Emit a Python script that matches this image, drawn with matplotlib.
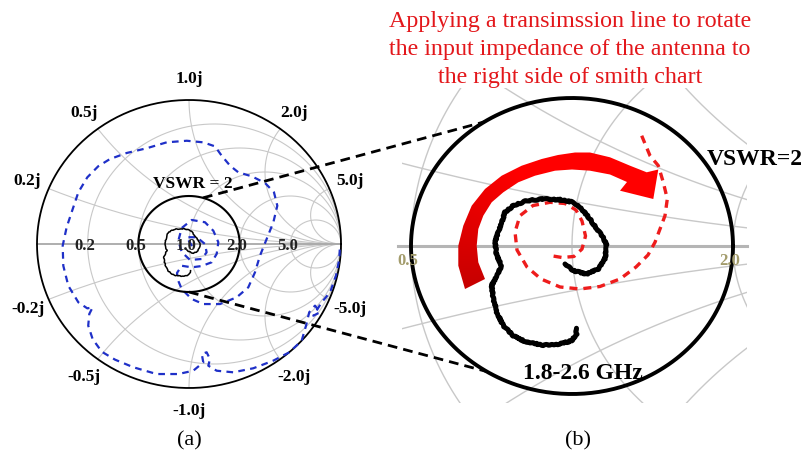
import numpy as np
import matplotlib
matplotlib.use("Agg")
import matplotlib.pyplot as plt
from matplotlib.patches import Polygon, Rectangle

plt.rcParams["font.family"] = ["Liberation Serif", "DejaVu Serif"]

# Reflection coefficient (real, imag) of the bare antenna
blue_re = [0.020, -0.015, 0.051, 0.105, 0.116, 0.084, 0.007, -0.048, -0.070, -0.048,
           0.018, 0.105, 0.160, 0.193, 0.182, 0.149, 0.084, 0.018, -0.048, -0.079,
           -0.070, -0.048, 0.018, 0.094, 0.204, 0.314, 0.390, 0.434, 0.467, 0.511,
           0.555, 0.581, 0.559, 0.500, 0.413, 0.324, 0.270, 0.215, 0.171, 0.094,
           -0.015, -0.147, -0.278, -0.410, -0.520, -0.597, -0.669, -0.728, -0.765, -0.805,
           -0.831, -0.827, -0.794, -0.728, -0.669, -0.634, -0.656, -0.663, -0.634, -0.574,
           -0.487, -0.366, -0.213, -0.070, 0.028, 0.094, 0.084, 0.116, 0.138, 0.127,
           0.182, 0.291, 0.423, 0.555, 0.660, 0.741, 0.770, 0.791, 0.829, 0.862,
           0.818, 0.873, 0.928, 0.967, 0.989, 0.993]
blue_im = [-0.014, 0.047, 0.047, 0.000, -0.058, -0.104, -0.111, -0.056, 0.023, 0.111,
           0.167, 0.151, 0.092, 0.012, -0.069, -0.127, -0.153, -0.162, -0.151, -0.201,
           -0.257, -0.313, -0.382, -0.417, -0.417, -0.370, -0.301, -0.197, -0.081, 0.035,
           0.151, 0.266, 0.359, 0.424, 0.470, 0.498, 0.544, 0.613, 0.678, 0.706,
           0.717, 0.706, 0.665, 0.632, 0.590, 0.540, 0.463, 0.359, 0.243, 0.116,
           -0.012, -0.151, -0.290, -0.405, -0.447, -0.440, -0.486, -0.567, -0.660, -0.748,
           -0.803, -0.856, -0.903, -0.903, -0.880, -0.822, -0.764, -0.752, -0.799, -0.845,
           -0.880, -0.891, -0.863, -0.810, -0.752, -0.672, -0.567, -0.474, -0.428, -0.474,
           -0.498, -0.405, -0.335, -0.220, -0.104, -0.012]

# Matched antenna, 1.8-2.6 GHz
black_re = [-0.0145, 0.0027, 0.0304, 0.0545, 0.0683, 0.0718, 0.0648, 0.0511, 0.0373, 0.0201,
            0.0027, -0.0248, -0.0594, -0.0938, -0.1215, -0.1387, -0.1455, -0.1526, -0.1594,
            -0.1559, -0.1455, -0.1559, -0.1663, -0.1629, -0.1559, -0.1422, -0.1215, -0.0938,
            -0.0594, -0.0248, -0.0006, 0.0097, 0.0083]
black_im = [-0.0405, -0.0556, -0.0631, -0.0518, -0.0293, 0.0007, 0.0196, 0.0383, 0.0608, 0.0833,
            0.0984, 0.1043, 0.1059, 0.1020, 0.0908, 0.0759, 0.0534, 0.0309, 0.0083,
            -0.0218, -0.0444, -0.0669, -0.0894, -0.1194, -0.1493, -0.1795, -0.2020, -0.2169,
            -0.2230, -0.2207, -0.2133, -0.1982, -0.1854]

# After the transmission line
red_re = [0.1443, 0.1615, 0.1787, 0.1890, 0.1973, 0.1925, 0.1822, 0.1718, 0.1573, 0.1325,
          0.0994, 0.0580, 0.0166, -0.0248, -0.0642, -0.0932, -0.1139, -0.1180, -0.1077,
          -0.0807, -0.0455, -0.0145, 0.0083, 0.0207, 0.0280, 0.0207, 0.0041, -0.0207, -0.0435]
red_im = [0.2484, 0.2034, 0.1809, 0.1435, 0.1059, 0.0682, 0.0383, 0.0083, -0.0203, -0.0473,
          -0.0743, -0.0912, -0.0968, -0.0923, -0.0743, -0.0473, -0.0090, 0.0315, 0.0682,
          0.0912, 0.0984, 0.0957, 0.0811, 0.0563, 0.0225, -0.0068, -0.0236, -0.0259, -0.0218]

r_vals = [0.2, 0.5, 1.0, 2.0, 5.0]
x_vals = [0.2, 0.5, 1.0, 2.0, 5.0]
r_labels = ["0.2", "0.5", "1.0", "2.0", "5.0"]
x_labels = ["0.2j", "0.5j", "1.0j", "2.0j", "5.0j"]
vswr = 2.0

# chart placement in pixels: centre and scale of |gamma| = 1
LEFT = (189, 245, 152, 144)
RIGHT = (572, 247, 483, 444)


def to_px(gr, gi, chart):
    cx, cy, sx, sy = chart
    return cx + sx * np.asarray(gr), cy - sy * np.asarray(gi)


def draw_grid(ax, chart, clip=None, lw=0.8):
    t = np.linspace(0, 2 * np.pi, 3000)
    lines = []
    for r in r_vals:
        c, rad = r / (1 + r), 1 / (1 + r)
        lines.append((c + rad * np.cos(t), rad * np.sin(t)))
    for x in x_vals:
        for s in (1, -1):
            gr = 1 + np.cos(t) / x
            gi = s / x + np.sin(t) / x
            out = gr ** 2 + gi ** 2 > 1.0001
            gr, gi = gr.copy(), gi.copy()
            gr[out] = np.nan
            gi[out] = np.nan
            lines.append((gr, gi))
    for gr, gi in lines:
        px, py = to_px(gr, gi, chart)
        ln, = ax.plot(px, py, color="#c8c8c8", lw=lw, zorder=1)
        if clip is not None:
            ln.set_clip_path(clip)


fig = plt.figure(figsize=(8.06, 4.52), dpi=100)
ax = fig.add_axes([0, 0, 1, 1])
ax.set_xlim(0, 806)
ax.set_ylim(452, 0)
ax.axis("off")

# ---- (a) full Smith chart ----
draw_grid(ax, LEFT)
px, py = to_px([-1, 1], [0, 0], LEFT)
ax.plot(px, py, color="#a8a8a8", lw=1.3, zorder=1)
t = np.linspace(0, 2 * np.pi, 400)
px, py = to_px(np.cos(t), np.sin(t), LEFT)
ax.plot(px, py, color="black", lw=1.3, zorder=2)

g_vswr = (vswr - 1) / (vswr + 1)
px, py = to_px(g_vswr * np.cos(t), g_vswr * np.sin(t), LEFT)
ax.plot(px, py, color="black", lw=1.5, zorder=4)

px, py = to_px(blue_re, blue_im, LEFT)
ax.plot(px, py, color="#1f30c8", lw=1.6, dashes=(3, 2.4), zorder=3)
px, py = to_px(black_re, black_im, LEFT)
ln, = ax.plot(px, py, color="black", lw=1.1, zorder=4)
ln.set_sketch_params(scale=0.4, length=4, randomness=4)

for r, lab in zip(r_vals, r_labels):
    px, py = to_px((r - 1) / (r + 1), 0, LEFT)
    ax.text(px - 3, py + 1, lab, ha="center", va="center", fontsize=12,
            fontweight="bold", color="#222222", zorder=5)

for x, lab in zip(x_vals, x_labels):
    gr, gi = (x ** 2 - 1) / (x ** 2 + 1), 2 * x / (x ** 2 + 1)
    for s in (1, -1):
        px, py = to_px(1.15 * gr, 1.15 * s * gi, LEFT)
        text = lab if s > 0 else "-" + lab
        ax.text(px, py, text, ha="center", va="center", fontsize=12.5,
                fontweight="bold", color="black")

ax.text(193, 184, "VSWR = 2", ha="center", va="center", fontsize=12.5,
        fontweight="bold", color="black", zorder=5)

# ---- (b) zoom around the matched region ----
clip = Rectangle((402, 89), 345, 315, transform=ax.transData)
draw_grid(ax, RIGHT, clip=clip, lw=1.0)
px, py = to_px([-0.36, 0.363], [0, 0], RIGHT)
ax.plot(px, py, color="#b5b5b5", lw=2.2, zorder=1)

px, py = to_px(g_vswr * np.cos(t), g_vswr * np.sin(t), RIGHT)
ax.plot(px, py, color="black", lw=2.8, zorder=4)

px, py = to_px(red_re, red_im, RIGHT)
ax.plot(px, py, color="#ee1c1c", lw=2.4, dashes=(2.4, 1.8), zorder=3)
px, py = to_px(black_re, black_im, RIGHT)
ln, = ax.plot(px, py, color="black", lw=3.6, solid_joinstyle="round",
              solid_capstyle="round", zorder=4)
ln.set_sketch_params(scale=0.6, length=6, randomness=4)

for r in (0.5, 2.0):
    px, py = to_px((r - 1) / (r + 1), 0, RIGHT)
    ax.text(px - 3, py + 14, f"{r:.1f}", ha="center", va="center", fontsize=12,
            fontweight="bold", color="#a39c6c", zorder=5)

ax.text(707, 160, "VSWR=2", ha="left", va="center", fontsize=17,
        fontweight="bold", color="black", zorder=6)
ax.text(583, 374, "1.8-2.6 GHz", ha="center", va="center", fontsize=17,
        fontweight="bold", color="black", zorder=6)

# curved arrow showing the rotation
arrow_pts = [(465, 290), (458.3, 266.7), (458.3, 246.7), (463.3, 226.7), (471.7, 206.7),
             (485, 190), (501.7, 176.7), (521.7, 166.7), (541.7, 160), (558, 156),
             (575, 153.5), (590, 153.5), (610, 158.3), (630, 166.7), (646.7, 173.3),
             (658.3, 170.5), (653.3, 200), (620, 191.7), (627, 183), (610, 175.5),
             (590, 171.7), (572, 170.5), (555, 171.7), (535, 176.7), (518.3, 183.3),
             (503.3, 193.3), (491.7, 203.3), (483.3, 216.7), (478.3, 230), (476.7, 246.7),
             (478.3, 263.3), (485, 280)]
poly = Polygon(arrow_pts, closed=True, facecolor="none", edgecolor="none",
               transform=ax.transData)
ax.add_patch(poly)
gx, gy = np.meshgrid(np.linspace(450, 665, 220), np.linspace(145, 300, 160))
ang = np.degrees(np.arctan2(262 - gy, gx - 570))
ang[ang < -90] += 360
frac = np.clip((195 - ang) / 75, 0, 1)
img = np.zeros(gx.shape + (3,))
img[..., 0] = 0.78 + 0.22 * frac
im = ax.imshow(img, extent=(450, 665, 145, 300), origin="lower",
               aspect="auto", zorder=3, interpolation="bilinear")
im.set_clip_path(poly)

# dashed connectors between the two charts
for a_left, a_right in ((74, 123), (-90, -122)):
    x0, y0 = to_px(g_vswr * np.cos(np.radians(a_left)),
                   g_vswr * np.sin(np.radians(a_left)), LEFT)
    x1, y1 = to_px(g_vswr * np.cos(np.radians(a_right)),
                   g_vswr * np.sin(np.radians(a_right)), RIGHT)
    ax.plot([x0, x1], [y0, y1], color="black", lw=2.0, dashes=(3.5, 2.2), zorder=5)

ax.set_xlim(0, 806)
ax.set_ylim(452, 0)

# red caption
caption = ["Applying a transimssion line to rotate",
           "the input impedance of the antenna to",
           "the right side of smith chart"]
for i, line in enumerate(caption):
    ax.text(570, 21 + 28 * i, line, ha="center", va="center", fontsize=17.3,
            color="#e3171b")

ax.text(189, 441, "(a)", ha="center", va="center", fontsize=16, color="black")
ax.text(578, 441, "(b)", ha="center", va="center", fontsize=16, color="black")

fig.savefig("out.png", dpi=100)
